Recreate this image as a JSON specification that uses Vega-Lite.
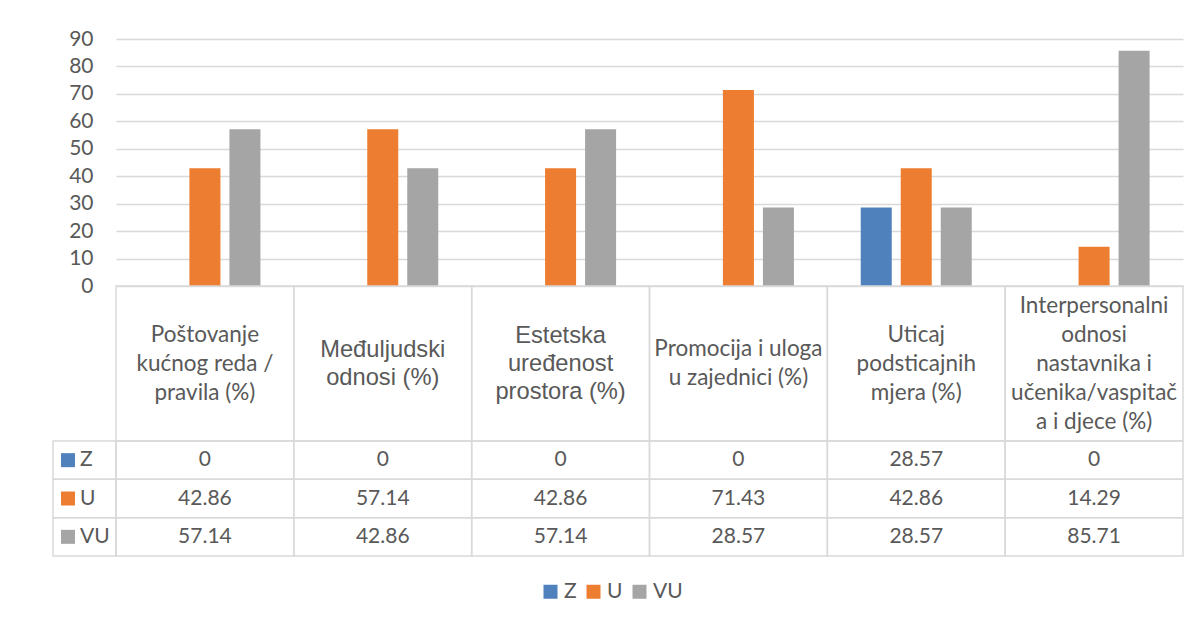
{
  "$schema": "https://vega.github.io/schema/vega-lite/v6.json",
  "background": "white",
  "padding": {"left": 52, "top": 28, "right": 10, "bottom": 10},
  "spacing": 0,
  "bounds": "flush",
  "config": {
    "view": {"stroke": null},
    "concat": {"spacing": 0},
    "font": "Lato"
  },
  "datasets": {
    "cats": [
      {"category": "Poštovanje kućnog reda / pravila (%)", "label": "Poštovanje\nkućnog reda /\npravila (%)"},
      {"category": "Međuljudski odnosi (%)", "label": "Međuljudski\nodnosi (%)"},
      {"category": "Estetska uređenost prostora (%)", "label": "Estetska\nuređenost\nprostora (%)"},
      {"category": "Promocija i uloga u zajednici (%)", "label": "Promocija i uloga\nu zajednici (%)"},
      {"category": "Uticaj podsticajnih mjera (%)", "label": "Uticaj\npodsticajnih\nmjera (%)"},
      {"category": "Interpersonalni odnosi nastavnika i učenika/vaspitača i djece (%)", "label": "Interpersonalni\nodnosi\nnastavnika i\nučenika/vaspitač\na i djece (%)"}
    ],
    "series": [
      {"series": "Z"},
      {"series": "U"},
      {"series": "VU"}
    ],
    "vals": [
      {"category": "Poštovanje kućnog reda / pravila (%)", "series": "Z", "value": 0},
      {"category": "Poštovanje kućnog reda / pravila (%)", "series": "U", "value": 42.86},
      {"category": "Poštovanje kućnog reda / pravila (%)", "series": "VU", "value": 57.14},
      {"category": "Međuljudski odnosi (%)", "series": "Z", "value": 0},
      {"category": "Međuljudski odnosi (%)", "series": "U", "value": 57.14},
      {"category": "Međuljudski odnosi (%)", "series": "VU", "value": 42.86},
      {"category": "Estetska uređenost prostora (%)", "series": "Z", "value": 0},
      {"category": "Estetska uređenost prostora (%)", "series": "U", "value": 42.86},
      {"category": "Estetska uređenost prostora (%)", "series": "VU", "value": 57.14},
      {"category": "Promocija i uloga u zajednici (%)", "series": "Z", "value": 0},
      {"category": "Promocija i uloga u zajednici (%)", "series": "U", "value": 71.43},
      {"category": "Promocija i uloga u zajednici (%)", "series": "VU", "value": 28.57},
      {"category": "Uticaj podsticajnih mjera (%)", "series": "Z", "value": 28.57},
      {"category": "Uticaj podsticajnih mjera (%)", "series": "U", "value": 42.86},
      {"category": "Uticaj podsticajnih mjera (%)", "series": "VU", "value": 28.57},
      {"category": "Interpersonalni odnosi nastavnika i učenika/vaspitača i djece (%)", "series": "Z", "value": 0},
      {"category": "Interpersonalni odnosi nastavnika i učenika/vaspitača i djece (%)", "series": "U", "value": 14.29},
      {"category": "Interpersonalni odnosi nastavnika i učenika/vaspitača i djece (%)", "series": "VU", "value": 85.71}
    ]
  },
  "vconcat": [
    {
      "width": 1067,
      "height": 247,
      "data": {"name": "vals"},
      "mark": {"type": "bar"},
      "encoding": {
        "x": {
          "field": "category", "type": "nominal",
          "scale": {"domain": ["Poštovanje kućnog reda / pravila (%)", "Međuljudski odnosi (%)", "Estetska uređenost prostora (%)", "Promocija i uloga u zajednici (%)", "Uticaj podsticajnih mjera (%)", "Interpersonalni odnosi nastavnika i učenika/vaspitača i djece (%)"], "paddingInner": 0, "paddingOuter": 0},
          "axis": null
        },
        "xOffset": {
          "field": "series", "type": "nominal",
          "scale": {"domain": ["Z", "U", "VU"], "paddingInner": 0.225, "paddingOuter": 0.835}
        },
        "y": {
          "field": "value", "type": "quantitative",
          "scale": {"domain": [0, 90], "nice": false},
          "axis": {
            "values": [0, 10, 20, 30, 40, 50, 60, 70, 80, 90],
            "grid": true, "gridColor": "#d9d9d9", "gridWidth": 1.5,
            "domain": false, "ticks": false,
            "labelFont": "Lato", "labelFontSize": 21, "labelColor": "#595959",
            "labelPadding": 23, "title": null
          }
        },
        "color": {
          "field": "series", "type": "nominal",
          "scale": {"domain": ["Z", "U", "VU"], "range": ["#4F81BD", "#ED7D31", "#A5A5A5"]},
          "legend": {
            "orient": "none", "legendX": 424, "legendY": 542,
            "direction": "horizontal", "title": null,
            "symbolType": "square", "symbolSize": 196, "symbolStrokeWidth": 0,
            "labelFont": "Lato", "labelFontSize": 21, "labelColor": "#595959",
            "labelOffset": 3, "columnPadding": 6, "padding": 0
          }
        }
      }
    },
    {
      "width": 1067,
      "height": 155,
      "data": {"name": "cats"},
      "encoding": {
        "x": {
          "field": "category", "type": "nominal",
          "scale": {"domain": ["Poštovanje kućnog reda / pravila (%)", "Međuljudski odnosi (%)", "Estetska uređenost prostora (%)", "Promocija i uloga u zajednici (%)", "Uticaj podsticajnih mjera (%)", "Interpersonalni odnosi nastavnika i učenika/vaspitača i djece (%)"], "paddingInner": 0, "paddingOuter": 0},
          "axis": null
        }
      },
      "layer": [
        {
          "mark": {"type": "rect", "filled": false, "color": "#d9d9d9", "strokeWidth": 1.5}
        },
        {
          "transform": [{"filter": {"not": {"field": "category", "oneOf": ["Međuljudski odnosi (%)", "Estetska uređenost prostora (%)"]}}}],
          "mark": {"type": "text", "font": "Lato", "fontSize": 22.5, "color": "#595959", "lineBreak": "\n", "lineHeight": 29, "baseline": "middle", "align": "center", "dy": {"expr": "-(length(split(datum.label, '\\n')) - 1) * 14.5"}},
          "encoding": {"text": {"field": "label"}}
        },
        {
          "transform": [{"filter": {"field": "category", "oneOf": ["Međuljudski odnosi (%)", "Estetska uređenost prostora (%)"]}}],
          "mark": {"type": "text", "font": "Liberation Sans", "fontSize": 23.7, "color": "#595959", "lineBreak": "\n", "lineHeight": 28, "baseline": "middle", "align": "center", "dy": {"expr": "-(length(split(datum.label, '\\n')) - 1) * 14"}},
          "encoding": {"text": {"field": "label"}}
        }
      ]
    },
    {
      "width": 1067,
      "height": 115,
      "encoding": {
        "y": {
          "field": "series", "type": "nominal",
          "scale": {"domain": ["Z", "U", "VU"], "paddingInner": 0, "paddingOuter": 0},
          "axis": null
        }
      },
      "layer": [
        {
          "data": {"name": "series"},
          "mark": {"type": "rect", "filled": false, "color": "#d9d9d9", "strokeWidth": 1.5},
          "encoding": {
            "x": {"datum": "lab", "type": "nominal", "scale": {"type": "band", "domain": ["lab"], "range": [-63, 0], "paddingInner": 0, "paddingOuter": 0}, "axis": null}
          }
        },
        {
          "data": {"name": "series"},
          "mark": {"type": "square", "size": 196, "filled": true, "opacity": 1},
          "encoding": {
            "x": {"datum": "sw", "type": "nominal", "scale": {"type": "point", "domain": ["sw", "tx"], "range": [-48, -36], "padding": 0}, "axis": null},
            "color": {"field": "series", "type": "nominal", "scale": {"domain": ["Z", "U", "VU"], "range": ["#4F81BD", "#ED7D31", "#A5A5A5"]}, "legend": null}
          }
        },
        {
          "data": {"name": "series"},
          "mark": {"type": "text", "font": "Lato", "fontSize": 21, "color": "#595959", "align": "left", "baseline": "middle"},
          "encoding": {
            "x": {"datum": "tx", "type": "nominal", "scale": {"type": "point", "domain": ["sw", "tx"], "range": [-48, -36], "padding": 0}, "axis": null},
            "text": {"field": "series"}
          }
        },
        {
          "data": {"name": "vals"},
          "mark": {"type": "rect", "filled": false, "color": "#d9d9d9", "strokeWidth": 1.5},
          "encoding": {
            "x": {
              "field": "category", "type": "nominal",
              "scale": {"domain": ["Poštovanje kućnog reda / pravila (%)", "Međuljudski odnosi (%)", "Estetska uređenost prostora (%)", "Promocija i uloga u zajednici (%)", "Uticaj podsticajnih mjera (%)", "Interpersonalni odnosi nastavnika i učenika/vaspitača i djece (%)"], "paddingInner": 0, "paddingOuter": 0},
              "axis": null
            }
          }
        },
        {
          "data": {"name": "vals"},
          "mark": {"type": "text", "font": "Lato", "fontSize": 21, "color": "#595959", "align": "center", "baseline": "middle"},
          "encoding": {
            "x": {
              "field": "category", "type": "nominal",
              "scale": {"domain": ["Poštovanje kućnog reda / pravila (%)", "Međuljudski odnosi (%)", "Estetska uređenost prostora (%)", "Promocija i uloga u zajednici (%)", "Uticaj podsticajnih mjera (%)", "Interpersonalni odnosi nastavnika i učenika/vaspitača i djece (%)"], "paddingInner": 0, "paddingOuter": 0},
              "axis": null
            },
            "text": {"field": "value", "type": "quantitative"}
          }
        }
      ],
      "resolve": {"scale": {"x": "independent"}}
    }
  ]
}
